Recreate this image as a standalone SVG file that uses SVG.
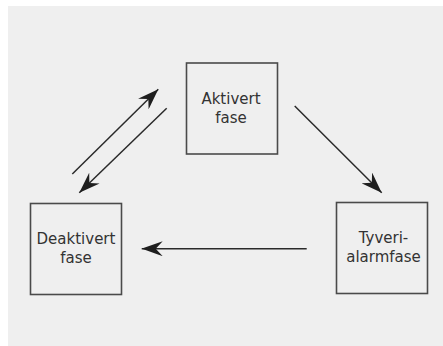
<svg xmlns="http://www.w3.org/2000/svg" width="443" height="346" viewBox="0 0 443 346">
  <style>
    .box { fill: none; stroke: #4a4a4a; stroke-width: 1.6; }
    .lbl { font-family: "DejaVu Sans", "Liberation Sans", sans-serif; font-size: 15px; fill: #333333; text-anchor: middle; }
    .edge { stroke: #2a2a2a; stroke-width: 1.5; fill: none; marker-end: url(#arr); }
  </style>
  <defs>
    <marker id="arr" markerUnits="userSpaceOnUse" viewBox="0 0 21 15" refX="21" refY="7.5" markerWidth="21" markerHeight="15" orient="auto">
      <path d="M0,0 L21,7.5 L0,15 L7,7.5 z" fill="#1e1e1e"/>
    </marker>
  </defs>
  <rect x="0" y="0" width="443" height="346" fill="#ffffff"/>
  <rect x="8" y="6" width="435" height="340" fill="#efefef"/>

  <g id="aktivert">
    <rect class="box" x="186.5" y="63" width="91" height="91"/>
    <text class="lbl" x="231" y="104">Aktivert</text>
    <text class="lbl" x="231" y="123">fase</text>
  </g>
  <g id="deaktivert">
    <rect class="box" x="30.5" y="203.5" width="91" height="91"/>
    <text class="lbl" x="76" y="243.5">Deaktivert</text>
    <text class="lbl" x="76" y="262.5">fase</text>
  </g>
  <g id="tyveri">
    <rect class="box" x="336.5" y="202.5" width="91" height="91"/>
    <text class="lbl" x="383.5" y="243">Tyveri-</text>
    <text class="lbl" x="383.5" y="262">alarmfase</text>
  </g>

  <g id="connectors">
    <line class="edge" x1="294.7" y1="106" x2="381.7" y2="192.7"/>
    <line class="edge" x1="306.7" y1="248.7" x2="141.7" y2="248.7"/>
    <line class="edge" x1="72.3" y1="174" x2="158.3" y2="89.3"/>
    <line class="edge" x1="166.7" y1="108.3" x2="79.3" y2="192.7"/>
  </g>
</svg>
